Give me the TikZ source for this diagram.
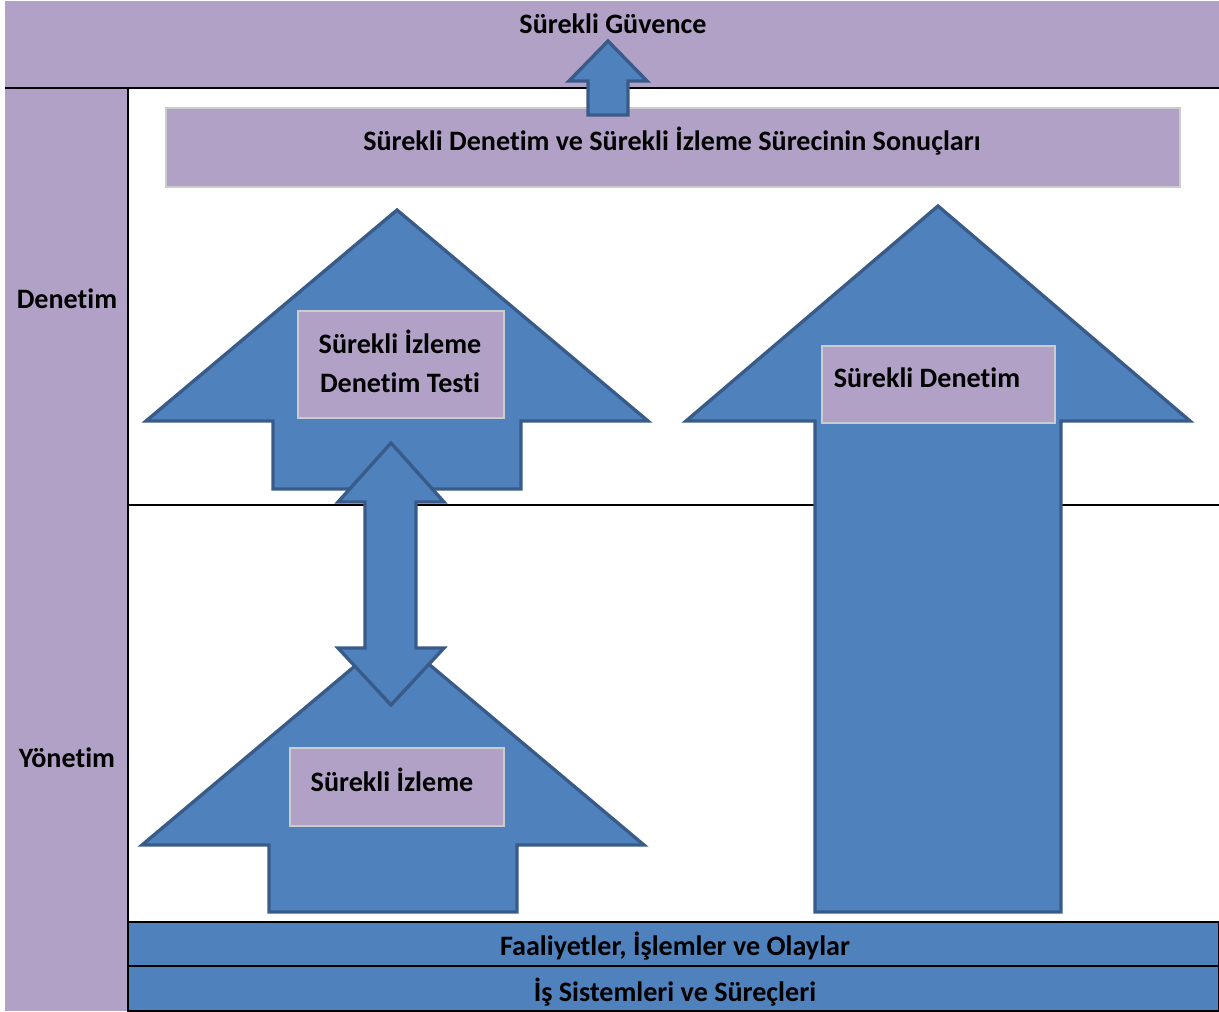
\documentclass[tikz,border=0pt]{standalone}
\usepackage{fontspec}
\setmainfont[Ligatures=NoCommon]{Carlito}
\usetikzlibrary{positioning}
\definecolor{bandpurple}{HTML}{B2A1C7}
\definecolor{arrowblue}{HTML}{4F81BD}
\definecolor{arrowedge}{HTML}{385B89}
\definecolor{boxedge}{HTML}{CCCCCC}

% up arrow: tip x, tip y, head base y, head half width, shaft half width, bottom y
\newcommand{\uparrowshape}[6]{%
  \draw[blockarrow] (#1,#2) -- (#1+#4,#3) -- (#1+#5,#3) -- (#1+#5,#6)
    -- (#1-#5,#6) -- (#1-#5,#3) -- (#1-#4,#3) -- cycle;}

\begin{document}
\begin{tikzpicture}[x=0.02cm,y=-0.02cm,
    blockarrow/.style={fill=arrowblue,draw=arrowedge,line width=1.9pt,line join=miter},
    rule/.style={line width=1.1pt,black},
    lbl/.style={font=\bfseries\fontsize{16}{22}\selectfont,text=black,inner sep=0pt},
    purplebox/.style={fill=bandpurple,draw=boxedge,line width=0.6pt,inner sep=0pt},
    blueband/.style={fill=arrowblue,draw=black,line width=1.1pt,inner sep=0pt}]
  \useasboundingbox (0,0) rectangle (1219,1011);
  % frame
  \fill[bandpurple] (5,1) rectangle (1219,88);
  \fill[bandpurple] (5,88) rectangle (128,1011);
  \draw[rule] (5,88) -- (1219,88);
  \draw[rule] (128,88) -- (128,1011);
  \draw[rule] (128,505) -- (1219,505);
  \node[lbl] (guvence) at (613,24) {Sürekli Güvence};
  \node[lbl] (denetim) at (67,299) {Denetim};
  \node[lbl] (yonetim) at (67,758) {Yönetim};
  % results bar
  \node[purplebox,minimum width=1014*0.02cm,minimum height=79*0.02cm] (sonuc) at (673,147.5) {};
  \node[lbl] (sonuctext) at (672,141) {Sürekli Denetim ve Sürekli İzleme Sürecinin Sonuçları};
  \uparrowshape{608}{41}{81}{39}{20}{115}
  % arrows
  \uparrowshape{397}{210}{421}{251}{124}{489}
  \uparrowshape{393}{634}{845}{251}{124}{912}
  \uparrowshape{938}{206}{421}{252}{123}{912}
  \draw[blockarrow] (391,443) -- (444,502) -- (416,502) -- (416,648) -- (444,648)
    -- (391,705) -- (338,648) -- (365,648) -- (365,502) -- (338,502) -- cycle;
  % boxes
  \node[purplebox,minimum width=206*0.02cm,minimum height=107*0.02cm] (testbox) at (401,364.5) {};
  \node[lbl,align=center] (testtext) at (400,361.5) {Sürekli İzleme\\Denetim Testi};
  \node[purplebox,minimum width=214*0.02cm,minimum height=78*0.02cm] (izlemebox) at (397,787) {};
  \node[lbl] (izlemetext) at (392,780) {Sürekli İzleme};
  \node[purplebox,minimum width=233*0.02cm,minimum height=77*0.02cm] (denetimbox) at (938.5,384.5) {};
  \node[lbl] (denetimtext) at (927,378) {Sürekli Denetim};
  % bottom bands
  \node[blueband,minimum width=1091*0.02cm,minimum height=44*0.02cm] (faaliyet) at (673.5,944) {};
  \node[blueband,minimum width=1091*0.02cm,minimum height=45*0.02cm] (sistem) at (673.5,988.5) {};
  \node[lbl] (faaliyettext) at (675,946) {Faaliyetler, İşlemler ve Olaylar};
  \node[lbl] (sistemtext) at (675,992) {İş Sistemleri ve Süreçleri};
\end{tikzpicture}
\end{document}
